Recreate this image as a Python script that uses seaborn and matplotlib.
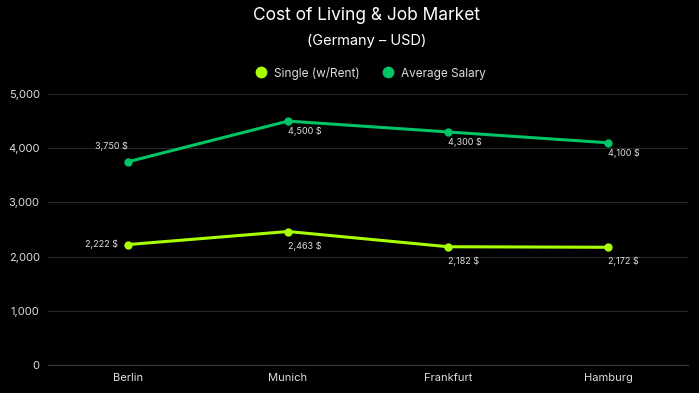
import matplotlib
matplotlib.use("Agg")
import matplotlib.pyplot as plt
from matplotlib.lines import Line2D
import seaborn as sns
import pandas as pd

cities = ["Berlin", "Munich", "Frankfurt", "Hamburg"]
single_rent = [2222, 2463, 2182, 2172]
avg_salary = [3750, 4500, 4300, 4100]
series_names = ["Single (w/Rent)", "Average Salary"]
colors = ["#A8FF04", "#00C465"]
yticks = [0, 1000, 2000, 3000, 4000, 5000]

sns.set_theme(style="dark")
plt.rcParams["font.family"] = ["Inter", "DejaVu Sans"]

df = pd.DataFrame({
    "city": cities * 2,
    "value": single_rent + avg_salary,
    "series": [series_names[0]] * 4 + [series_names[1]] * 4,
})

fig = plt.figure(figsize=(6.99, 3.93), dpi=100, facecolor="black")
ax = fig.add_axes([48/699, 28/393, 640/699, 271/393])
ax.set_facecolor("black")

sns.lineplot(data=df, x="city", y="value", hue="series", palette=colors,
             marker="o", markersize=6, markeredgewidth=0, linewidth=2.2,
             ax=ax, legend=False, sort=False)

ax.set_xlim(-0.5, 3.5)
ax.set_ylim(0, 5000)
ax.set_yticks(yticks)
ax.set_yticklabels([f"{v:,}" for v in yticks])
ax.set_xlabel("")
ax.set_ylabel("")
ax.grid(axis="y", color="#262626", linewidth=0.8)
ax.grid(axis="x", visible=False)
for s in ["top", "right", "left"]:
    ax.spines[s].set_visible(False)
ax.spines["bottom"].set_color("#3a3a3a")
ax.spines["bottom"].set_linewidth(0.8)
ax.tick_params(axis="both", colors="#dddddd", labelsize=8, length=0, pad=6)
for lbl in ax.get_xticklabels() + ax.get_yticklabels():
    lbl.set_color("#dddddd")

lab_kw = dict(color="#dddddd", fontsize=6.5)
# Single labels
for i, v in enumerate(single_rent):
    txt = f"{v:,} $"
    if i == 0:
        ax.annotate(txt, (i, v), xytext=(-7, 0), textcoords="offset points",
                    ha="right", va="center", **lab_kw)
    else:
        ax.annotate(txt, (i, v), xytext=(0, -7), textcoords="offset points",
                    ha="left", va="top", **lab_kw)
# Salary labels
for i, v in enumerate(avg_salary):
    txt = f"{v:,} $"
    if i == 0:
        ax.annotate(txt, (i, v), xytext=(0, 8), textcoords="offset points",
                    ha="right", va="bottom", **lab_kw)
    else:
        ax.annotate(txt, (i, v), xytext=(0, -4), textcoords="offset points",
                    ha="left", va="top", **lab_kw)

fig.text(0.525, 1 - 16/393, "Cost of Living & Job Market", ha="center", va="center",
         color="white", fontsize=12.5)
fig.text(0.525, 1 - 41/393, "(Germany \u2013 USD)", ha="center", va="center",
         color="white", fontsize=10.5)

handles = [Line2D([0], [0], marker="o", linestyle="", markersize=8.5,
                  markerfacecolor=c, markeredgewidth=0) for c in colors]
fig.legend(handles, series_names, loc="center", bbox_to_anchor=(0.526, 1 - 73/393),
           ncol=2, frameon=False, labelcolor="#dddddd", fontsize=8.5,
           handletextpad=0.1, columnspacing=1.4)

fig.savefig("out.png", dpi=100, facecolor="black")
